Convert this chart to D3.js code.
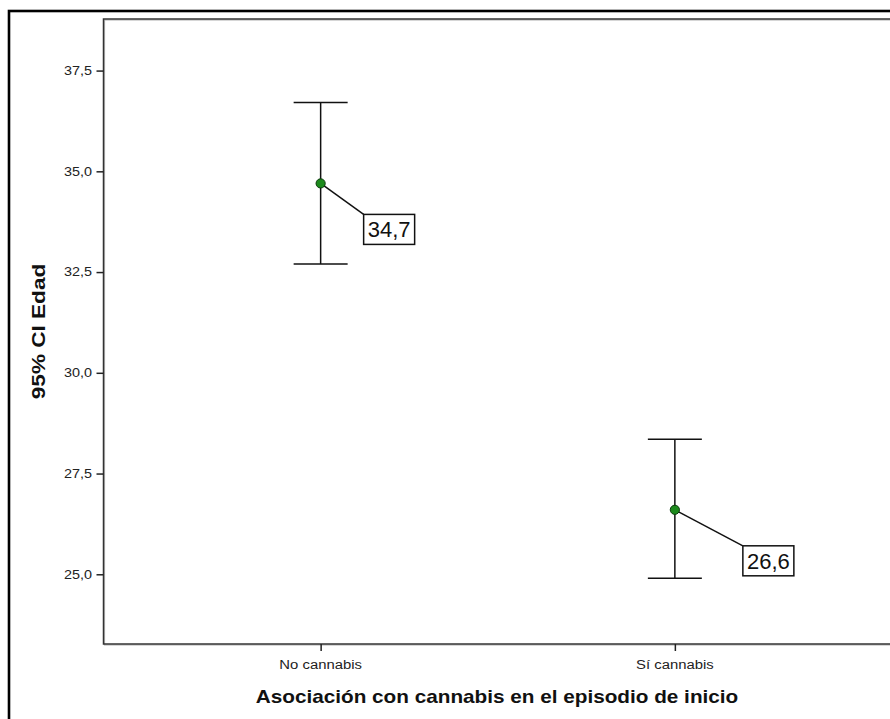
<!DOCTYPE html>
<html>
<head>
<meta charset="utf-8">
<script src="https://cdn.jsdelivr.net/npm/d3@7/dist/d3.min.js"></script>
<style>
  html, body { margin: 0; padding: 0; background: #fff; }
  svg { display: block; font-family: "Liberation Sans", Arial, Helvetica, sans-serif; }
</style>
</head>
<body>
<svg id="chart" width="890" height="719"></svg>
<script>
// Mean age with 95% confidence interval by cannabis association at onset
const categories = ["No cannabis", "Sí cannabis"];
const means = [34.7, 26.6];
const ciLower = [32.70, 24.90];
const ciUpper = [36.71, 28.35];
const meanLabels = ["34,7", "26,6"];
const yTicks = [25.0, 27.5, 30.0, 32.5, 35.0, 37.5];
const xTitle = "Asociación con cannabis en el episodio de inicio";
const yTitle = "95% CI Edad";

const svg = d3.select("#chart");
const W = 890, H = 719;

// frame geometry
const plot = { left: 103.5, top: 19, right: 892, bottom: 644 };

const x = d3.scalePoint()
  .domain(categories)
  .range([plot.left, plot.right])
  .padding(0.613);

const y = d3.scaleLinear()
  .domain([23.27, 38.78])
  .range([plot.bottom, plot.top]);

const fmt = v => d3.format(".1f")(v).replace(".", ",");

// outer page border (top and left edges visible)
svg.append("rect")
  .attr("x", 9).attr("y", 11)
  .attr("width", W + 20).attr("height", H + 20)
  .attr("fill", "none")
  .attr("stroke", "#000")
  .attr("stroke-width", 2.6);

// plot frame with a faint shadow
svg.append("rect")
  .attr("x", plot.left + 1).attr("y", plot.top + 1)
  .attr("width", plot.right - plot.left).attr("height", plot.bottom - plot.top)
  .attr("fill", "none")
  .attr("stroke", "#bbb")
  .attr("stroke-width", 1.2);
svg.append("rect")
  .attr("x", plot.left).attr("y", plot.top)
  .attr("width", plot.right - plot.left).attr("height", plot.bottom - plot.top)
  .attr("fill", "none")
  .attr("stroke", "#333")
  .attr("stroke-width", 1.5);

// stretched text helper
function stretchedText(g, tx, ty, str, opts) {
  const grp = g.append("g")
    .attr("transform", `translate(${tx},${ty})` + (opts.rotate ? ` rotate(${opts.rotate})` : "") + ` scale(${opts.sx || 1},1)`);
  grp.append("text")
    .attr("text-anchor", opts.anchor || "middle")
    .attr("dy", opts.dy || 0)
    .attr("font-size", opts.size)
    .attr("font-weight", opts.weight || "normal")
    .attr("fill", opts.fill || "#1a1a1a")
    .text(str);
  return grp;
}

// y axis
const yAxis = d3.axisLeft(y)
  .tickValues(yTicks)
  .tickSize(7)
  .tickFormat("");
const yg = svg.append("g")
  .attr("transform", `translate(${plot.left},0)`)
  .call(yAxis);
yg.select(".domain").remove();
yg.selectAll(".tick line").attr("stroke", "#222").attr("stroke-width", 1.5);
yTicks.forEach(v => {
  stretchedText(svg, plot.left - 11.5, y(v), fmt(v),
    { anchor: "end", size: 12, sx: 1.2, dy: "0.36em", fill: "#222" });
});

// x axis
const xAxis = d3.axisBottom(x).tickSize(7).tickFormat("");
const xg = svg.append("g")
  .attr("transform", `translate(0,${plot.bottom})`)
  .call(xAxis);
xg.select(".domain").remove();
xg.selectAll(".tick line").attr("stroke", "#222").attr("stroke-width", 1.5);
categories.forEach(c => {
  stretchedText(svg, x(c), 669, c, { size: 13.5, sx: 1.1, fill: "#222" });
});

// axis titles
stretchedText(svg, 497, 703, xTitle, { size: 17.5, sx: 1.185, weight: "bold", fill: "#111" });
stretchedText(svg, 45, (plot.top + plot.bottom) / 2, yTitle,
  { size: 18.5, sx: 1.22, weight: "bold", rotate: -90, fill: "#111" });

// error bars
const capHalf = 27;
const bars = svg.append("g");
categories.forEach((c, i) => {
  const cx = x(c);
  bars.append("line")
    .attr("x1", cx).attr("x2", cx)
    .attr("y1", y(ciUpper[i])).attr("y2", y(ciLower[i]))
    .attr("stroke", "#111").attr("stroke-width", 1.5);
  [ciUpper[i], ciLower[i]].forEach(v => {
    bars.append("line")
      .attr("x1", cx - capHalf).attr("x2", cx + capHalf)
      .attr("y1", y(v)).attr("y2", y(v))
      .attr("stroke", "#111").attr("stroke-width", 1.5);
  });
});

// mean labels with leader lines
const labelOffsets = [[43, 31], [68, 36]];
const boxW = 51, boxH = 30;
categories.forEach((c, i) => {
  const px = x(c), py = y(means[i]);
  const bx = px + labelOffsets[i][0], by = py + labelOffsets[i][1];
  svg.append("line")
    .attr("x1", px).attr("y1", py)
    .attr("x2", bx).attr("y2", by)
    .attr("stroke", "#111").attr("stroke-width", 1.5);
  svg.append("rect")
    .attr("x", bx).attr("y", by)
    .attr("width", boxW).attr("height", boxH)
    .attr("fill", "#fff")
    .attr("stroke", "#111").attr("stroke-width", 1.5);
  svg.append("text")
    .attr("x", bx + boxW / 2).attr("y", by + boxH / 2)
    .attr("dy", "0.36em")
    .attr("text-anchor", "middle")
    .attr("font-size", 22)
    .attr("fill", "#111")
    .text(meanLabels[i]);
});

// mean points
svg.append("g").selectAll("circle")
  .data(means)
  .join("circle")
  .attr("cx", (d, i) => x(categories[i]))
  .attr("cy", d => y(d))
  .attr("r", 4.6)
  .attr("fill", "#1c8a1c")
  .attr("stroke", "#0b3a0b")
  .attr("stroke-width", 1);
</script>
</body>
</html>
